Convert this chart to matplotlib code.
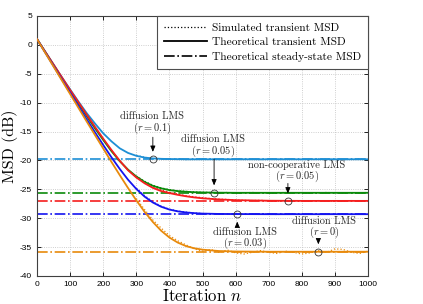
import matplotlib
matplotlib.use("Agg")
import matplotlib.pyplot as plt
from matplotlib.lines import Line2D

plt.rcParams['mathtext.fontset'] = 'cm'
plt.rcParams['axes.unicode_minus'] = False

# ---------------- data ----------------
n_theory = [0, 25, 50, 75, 100, 125, 150, 175, 200, 225, 250, 275, 300, 325, 350,
            375, 400, 425, 450, 475, 500, 550, 600, 700, 800, 900, 1000]

msd_r01 = [1.0, -1.2, -3.4, -5.6, -7.7, -9.8, -11.8, -13.6, -15.3, -16.7, -17.9, -18.7,
           -19.2, -19.5, -19.65, -19.72, -19.76, -19.78, -19.8, -19.8, -19.8, -19.8,
           -19.8, -19.8, -19.8, -19.8, -19.8]
msd_r005 = [1.0, -1.25, -3.5, -5.74, -7.94, -10.13, -12.3, -14.43, -16.45, -18.39, -20.13,
            -21.59, -22.78, -23.72, -24.39, -24.83, -25.13, -25.31, -25.42, -25.5, -25.54,
            -25.58, -25.6, -25.6, -25.6, -25.6, -25.6]
msd_nc005 = [1.0, -1.2, -3.4, -5.6, -7.8, -9.91, -12.06, -14.17, -16.22, -18.2, -20.05,
             -21.7, -22.95, -23.95, -24.75, -25.3, -25.65, -25.95, -26.2, -26.4, -26.55,
             -26.75, -26.87, -26.97, -27.0, -27.0, -27.0]
msd_r003 = [1.0, -1.33, -3.65, -5.98, -8.27, -10.57, -12.85, -15.11, -17.32, -19.46, -21.47,
            -23.33, -24.93, -26.26, -27.28, -28.01, -28.5, -28.81, -29.0, -29.12, -29.2,
            -29.26, -29.28, -29.3, -29.3, -29.3, -29.3]
msd_r0 = [1.0, -1.38, -3.75, -6.13, -8.5, -10.88, -13.25, -15.59, -17.93, -20.26, -22.54,
          -24.77, -26.9, -28.89, -30.65, -32.16, -33.34, -34.21, -34.82, -35.2, -35.44,
          -35.68, -35.76, -35.8, -35.8, -35.8, -35.8]

n_sim = [300, 325, 350, 375, 400, 425, 450, 475, 500, 525, 550, 575, 600, 625, 650,
         675, 700, 725, 750, 775, 800, 825, 850, 875, 900, 925, 950, 975, 1000]
sim_r01 = [-19.1, -19.45, -19.7, -19.75, -19.8, -19.75, -19.85, -19.8, -19.75, -19.8,
           -19.85, -19.8, -19.8, -19.75, -19.8, -19.85, -19.8, -19.8, -19.75, -19.8,
           -19.85, -19.8, -19.75, -19.8, -19.8, -19.85, -19.8, -19.75, -19.8]
sim_r005 = [-22.7, -23.6, -24.3, -24.75, -25.05, -25.25, -25.35, -25.45, -25.5, -25.55,
            -25.6, -25.55, -25.65, -25.6, -25.55, -25.6, -25.65, -25.6, -25.55, -25.6,
            -25.6, -25.65, -25.6, -25.55, -25.6, -25.6, -25.65, -25.6, -25.55]
sim_nc005 = [-22.9, -23.8, -24.6, -25.1, -25.5, -25.8, -26.1, -26.3, -26.45, -26.6,
             -26.7, -26.75, -26.85, -26.9, -26.95, -26.9, -27.0, -27.05, -26.95, -27.0,
             -27.05, -27.0, -26.95, -27.0, -27.05, -27.0, -26.95, -27.0, -27.05]
sim_r003 = [-24.8, -26.1, -27.15, -27.9, -28.45, -28.75, -28.95, -29.1, -29.2, -29.2,
            -29.25, -29.3, -29.25, -29.35, -29.3, -29.25, -29.3, -29.35, -29.3, -29.25,
            -29.3, -29.3, -29.35, -29.3, -29.25, -29.3, -29.35, -29.3, -29.3]
sim_r0 = [-26.6, -28.5, -30.3, -31.7, -33.0, -33.9, -34.6, -35.3, -35.7, -35.4, -35.9,
          -35.5, -36.0, -36.2, -35.9, -35.6, -35.9, -36.1, -35.7, -35.9, -36.2, -36.0,
          -35.6, -35.9, -35.3, -35.4, -35.9, -36.1, -35.7]

steady_state = [-19.8, -25.6, -27.05, -29.3, -35.8]

series_theory = [msd_r01, msd_r005, msd_nc005, msd_r003, msd_r0]
series_sim = [sim_r01, sim_r005, sim_nc005, sim_r003, sim_r0]
colors = ['#1E8FD5', '#0A8A0A', '#F51E1E', '#1414F0', '#E88A0C']

# annotations: (line 1, line 2, circle n, circle y, text n, text y1, text y2, arrow from y, arrow to y)
annotations = [
    ("diffusion LMS", r"$(r = 0.1)$", 350, -19.8, 348, -12.4, -14.4, -15.5, -19.0),
    ("diffusion LMS", r"$(r = 0.05)$", 535, -25.6, 532, -16.4, -18.4, -19.3, -24.8),
    ("non-cooperative LMS", r"$(r = 0.05)$", 758, -27.0, 785, -20.8, -22.8, -23.5, -26.2),
    ("diffusion LMS", r"$(r = 0.03)$", 628, -29.3, 628, -32.5, -34.4, -31.6, -30.1),
    ("diffusion LMS", r"$(r = 0)$", 850, -35.8, 867, -30.5, -32.5, -33.3, -35.0),
]
annotations[3] = ("diffusion LMS", r"$(r = 0.03)$", 605, -29.3, 628, -32.5, -34.4, -31.6, -30.1)

# ---------------- figure ----------------
fig = plt.figure(figsize=(4.23, 3.04), dpi=100)
ax = fig.add_axes([37 / 423, 1 - 276 / 304, 331 / 423, 260 / 304])

for ss, c in zip(steady_state, colors):
    ax.plot([0, 1000], [ss, ss], linestyle='-.', color=c, lw=1.2, zorder=2)
for sim, c in zip(series_sim, colors):
    ax.plot(n_sim, sim, linestyle=':', color=c, lw=0.9, zorder=3)
for th, c in zip(series_theory, colors):
    ax.plot(n_theory, th, linestyle='-', color=c, lw=1.3, zorder=4)

serif = 'cmr10'
for l1, l2, cx, cy, tx, ty1, ty2, ay0, ay1 in annotations:
    ax.plot([cx], [cy], marker='o', ms=5, mfc='none', mec='0.2', mew=0.6, zorder=6)
    ax.annotate('', xy=(cx, ay1), xytext=(cx, ay0),
                arrowprops=dict(arrowstyle='-|>,head_length=0.35,head_width=0.15',
                                color='black', lw=0.6), zorder=6)
    ax.text(tx, ty1, l1, ha='center', va='center', family=serif, fontsize=7.5, color='0.15')
    ax.text(tx, ty2, l2, ha='center', va='center', fontsize=7.5, color='0.15')

ax.set_xlim(0, 1000)
ax.set_ylim(-40, 5)
ax.set_xticks(range(0, 1001, 100))
ax.set_yticks(range(-40, 6, 5))
ax.tick_params(direction='in', top=True, right=True, labelsize=6, length=3, width=0.6)
for lab in ax.get_xticklabels() + ax.get_yticklabels():
    lab.set_family('Liberation Sans')
ax.grid(True, linestyle=':', color='0.75', lw=0.6)
for sp in ax.spines.values():
    sp.set_linewidth(0.8)
    sp.set_color('0.25')

ax.set_xlabel(r"Iteration $n$", family=serif, fontsize=12, labelpad=0)
ax.set_ylabel("MSD (dB)", family=serif, fontsize=11.5, labelpad=1)

handles = [Line2D([], [], color='black', linestyle=':', lw=0.9),
           Line2D([], [], color='black', linestyle='-', lw=1.3),
           Line2D([], [], color='black', linestyle='-.', lw=1.2)]
labels = ["Simulated transient MSD", "Theoretical transient MSD",
          "Theoretical steady-state MSD"]
leg = ax.legend(handles, labels, loc='upper right', bbox_to_anchor=(1, 1),
                borderaxespad=0, frameon=True, fancybox=False, framealpha=1,
                edgecolor='0.3', prop={'family': serif, 'size': 8.2},
                handlelength=3.8, handletextpad=0.4, borderpad=0.6, labelspacing=0.4)
leg.get_frame().set_linewidth(0.8)
leg.set_zorder(10)

fig.savefig('out.png', dpi=100)
